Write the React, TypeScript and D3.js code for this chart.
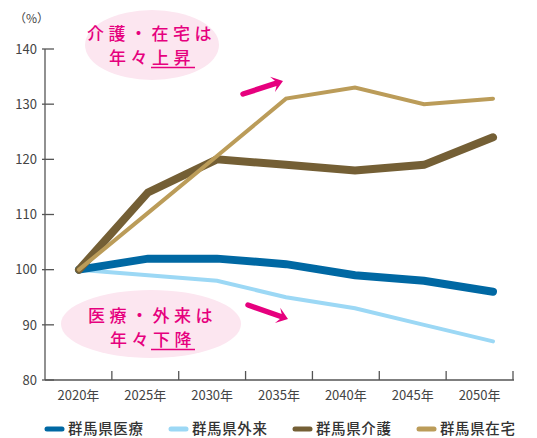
import React from "react";
import * as d3 from "d3";

const years = ["2020年", "2025年", "2030年", "2035年", "2040年", "2045年", "2050年"];
const iryo = [100, 102, 102, 101, 99, 98, 96];
const gairai = [100, 99, 98, 95, 93, 90, 87];
const kaigo = [100, 114, 120, 119, 118, 119, 124];
const zaitaku = [100, 110.3, 120.6, 131, 133, 130, 131];
const yTicks = [80, 90, 100, 110, 120, 130, 140];

const series = [
  { name: "群馬県医療", values: iryo, color: "#0068a3", width: 8 },
  { name: "群馬県外来", values: gairai, color: "#9cd8f5", width: 4 },
  { name: "群馬県介護", values: kaigo, color: "#745f35", width: 8 },
  { name: "群馬県在宅", values: zaitaku, color: "#bb9c59", width: 4 },
];

const FONT = "'Noto Sans CJK JP', 'Noto Sans', sans-serif";
const PINK = "#e6007e";

function Arrow({ x1, y1, x2, y2 }: { x1: number; y1: number; x2: number; y2: number }) {
  const dx = x2 - x1, dy = y2 - y1;
  const len = Math.hypot(dx, dy);
  const ux = dx / len, uy = dy / len;
  const px = -uy, py = ux;
  const hl = 11, hw = 8;
  const bx = x2 - ux * hl, by = y2 - uy * hl;
  const a = [bx + px * hw, by + py * hw];
  const b = [bx - px * hw, by - py * hw];
  const notch = [x2 - ux * 6, y2 - uy * 6];
  return (
    <g>
      <line x1={x1} y1={y1} x2={x2 - ux * 6} y2={y2 - uy * 6} stroke={PINK} strokeWidth={5.5} strokeLinecap="round" />
      <polygon points={`${x2},${y2} ${a[0]},${a[1]} ${notch[0]},${notch[1]} ${b[0]},${b[1]}`} fill={PINK} />
    </g>
  );
}

export default function App() {
  const W = 537, H = 438;
  const y = d3.scaleLinear().domain([80, 140]).range([380, 49]);
  const xBand = d3.scaleBand().domain(years).range([45, 513]);
  const xPt = d3.scalePoint().domain(years).range([79, 493]);
  const line = d3.line<number>().x((_, i) => xPt(years[i]) as number).y((d) => y(d));

  const legendX = [45, 169, 293, 417];

  return (
    <svg width={W} height={H} style={{ position: "absolute", left: 0, top: 0, background: "#fff" }} fontFamily={FONT}>
      <ellipse cx={152} cy={45} rx={67} ry={35} fill="#fce6f0" />
      <ellipse cx={151} cy={324} rx={90} ry={34} fill="#fce6f0" />

      <text x={14} y={23} fontSize={12} fill="#444">（%）</text>
      <line x1={45} y1={49} x2={45} y2={380} stroke="#555" strokeWidth={1.3} />
      {yTicks.map((t) => (
        <g key={t}>
          <line x1={42} x2={54} y1={y(t)} y2={y(t)} stroke="#555" strokeWidth={1.3} />
          <text x={37} y={y(t)} dy="0.36em" textAnchor="end" fontSize={13} fill="#444">{t}</text>
        </g>
      ))}
      <line x1={45} y1={380} x2={514} y2={380} stroke="#555" strokeWidth={1.3} />
      {years.map((yr, i) => (
        <g key={yr}>
          {i > 0 && <line x1={xBand(yr)} x2={xBand(yr)} y1={371} y2={380} stroke="#555" strokeWidth={1.3} />}
          <text x={(xBand(yr) as number) + xBand.bandwidth() / 2} y={395} dy="0.36em" textAnchor="middle" fontSize={13} fill="#444">{yr}</text>
        </g>
      ))}
      <line x1={513} x2={513} y1={371} y2={380} stroke="#555" strokeWidth={1.3} />

      {[series[1], series[0], series[2], series[3]].map((s) => (
        <path key={s.name} d={line(s.values) || ""} fill="none" stroke={s.color} strokeWidth={s.width} strokeLinecap="round" strokeLinejoin="miter" />
      ))}

      <g fill={PINK} fontWeight={500} fontSize={17} letterSpacing={4.5}>
        <text x={87} y={40}>介護・在宅は</text>
        <text x={109} y={64}>年々上昇</text>
        <text x={88} y={322}>医療・外来は</text>
        <text x={110} y={346}>年々下降</text>
      </g>
      <line x1={151} x2={195} y1={67.5} y2={67.5} stroke={PINK} strokeWidth={1.5} />
      <line x1={151} x2={195} y1={349.5} y2={349.5} stroke={PINK} strokeWidth={1.5} />
      <Arrow x1={243} y1={94} x2={283} y2={81} />
      <Arrow x1={248} y1={305} x2={288} y2={319} />

      {series.map((s, i) => (
        <g key={s.name}>
          <line x1={legendX[i] + 2} x2={legendX[i] + 17} y1={429} y2={429} stroke={s.color} strokeWidth={5} strokeLinecap="round" />
          <text x={legendX[i] + 23} y={429} dy="0.36em" fontSize={14.5} fontWeight={500} letterSpacing={0.6} fill="#333">{s.name}</text>
        </g>
      ))}
    </svg>
  );
}
